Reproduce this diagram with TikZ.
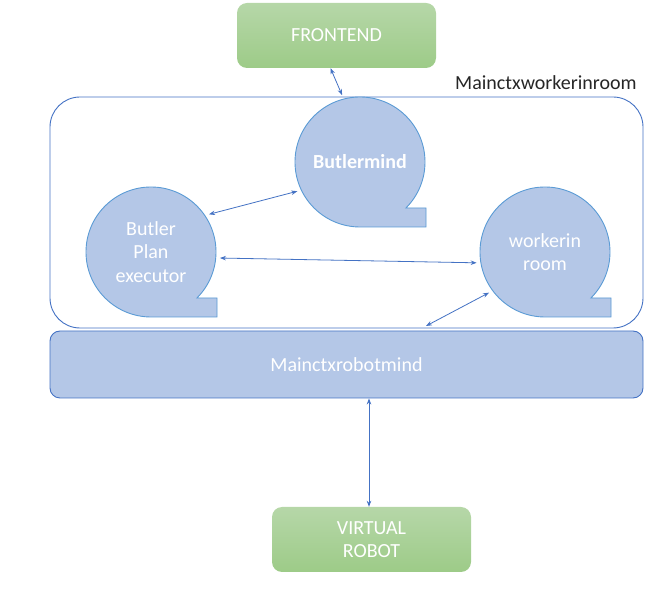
\documentclass[tikz,border=0pt]{standalone}
\usepackage{fontspec}
\setmainfont{Carlito}
\usetikzlibrary{arrows.meta}
\definecolor{bfill}{HTML}{B4C7E7}
\definecolor{bline}{HTML}{4472C4}
\definecolor{cline}{HTML}{5B9BD5}
\definecolor{gtop}{HTML}{B6D7A8}
\definecolor{gbot}{HTML}{9DCB88}
\definecolor{lbltext}{HTML}{262626}
\begin{document}
\begin{tikzpicture}[x=1pt,y=-1pt,
  txt/.style={font=\fontsize{20}{23.5}\selectfont, align=center},
  greenbox/.style={txt, rounded corners=10pt, top color=gtop, bottom color=gbot, draw=none, text=white, inner sep=0pt},
  bluebox/.style={txt, rounded corners=10pt, fill=bfill, draw=bline, line width=0.9pt, text=white, inner sep=0pt},
  groupbox/.style={rounded corners=30pt, fill=white, draw=bline, line width=0.9pt, inner sep=0pt},
  tapenode/.style={txt, circle, minimum size=138pt, inner sep=0pt, draw=none, text=white},
  link/.style={draw=bline, line width=0.8pt, {Stealth[length=6pt,width=4.5pt]}-{Stealth[length=6pt,width=4.5pt]}},
  tape/.pic={\filldraw[fill=bfill, draw=cline, line width=0.9pt]
     (45:65) arc[start angle=45, end angle=-270, radius=65] -- (66,65) -- (66,46) -- cycle;}
]
\useasboundingbox (0,0) rectangle (657,593);

\node[greenbox, minimum width=199pt, minimum height=65pt] (fe) at (336.5,35.5) {FRONTEND};
\node[txt, anchor=west, inner sep=0pt, text=lbltext] (lbl) at (455,83) {Mainctxworkerinroom};
\node[groupbox, minimum width=593pt, minimum height=231pt] (grp) at (346.5,212.5) {};
\node[bluebox, minimum width=593pt, minimum height=67pt] (rm) at (346.5,364.5) {Mainctxrobotmind};
\node[greenbox, minimum width=199pt, minimum height=65pt] (vr) at (371.5,539.5) {VIRTUAL\\ROBOT};

\pic at (360,162) {tape};
\node[tapenode] (bm) at (360,162) {\bfseries Butlermind};
\pic at (151,252) {tape};
\node[tapenode] (bp) at (151,252) {Butler\\Plan\\executor};
\pic at (545,252) {tape};
\node[tapenode] (wr) at (545,252) {workerin\\room};

\coordinate (wrin) at (426,326);
\draw[link] ([xshift=-6pt]fe.south) -- (bm.105);
\draw[link] (bp.33) -- (bm.205);
\draw[link] (bp.-5) -- (wr.189);
\draw[link] (wr.216) -- (wrin);
\draw[link] ([xshift=22.5pt]rm.south) -- ([xshift=-2.5pt]vr.north);
\end{tikzpicture}
\end{document}
